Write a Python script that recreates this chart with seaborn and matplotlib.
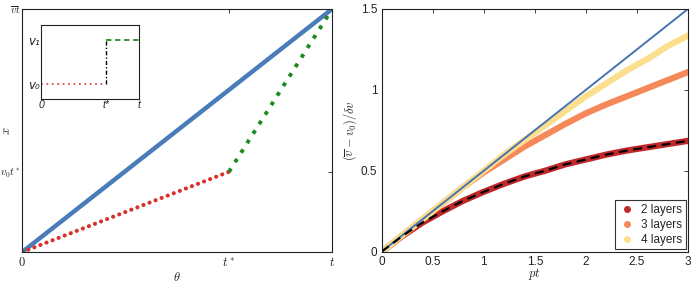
import matplotlib.pyplot as plt
import seaborn as sns
import pandas as pd
from matplotlib.lines import Line2D

# ---- left panel: piecewise path (normalised units, t = 1) ----
t_star = 0.667
v0_tstar = 0.33
blue_x = [0, 1]
blue_y = [0, 1]
red_x = [0, t_star]
red_y = [0, v0_tstar]
green_x = [t_star, 1]
green_y = [v0_tstar, 1]

# inset: velocity step
inset_v0 = 0.2
inset_v1 = 0.8

# ---- right panel: measured curves ----
pt = [0, 0.2, 0.4, 0.6, 0.8, 1.0, 1.2, 1.4, 1.6, 1.8, 2.0, 2.2, 2.4, 2.6, 2.8, 3.0]
layers2 = [0, 0.095, 0.18, 0.25, 0.315, 0.37, 0.42, 0.465, 0.50, 0.54, 0.57, 0.60, 0.625, 0.645, 0.665, 0.685]
layers3 = [0, 0.10, 0.20, 0.30, 0.40, 0.49, 0.57, 0.65, 0.72, 0.79, 0.855, 0.91, 0.96, 1.01, 1.06, 1.11]
layers4 = [0, 0.10, 0.20, 0.30, 0.40, 0.50, 0.60, 0.69, 0.78, 0.87, 0.96, 1.04, 1.12, 1.19, 1.27, 1.335]
theory2 = [0, 0.095, 0.18, 0.25, 0.315, 0.37, 0.42, 0.465, 0.50, 0.54, 0.57, 0.60, 0.625, 0.645, 0.665, 0.685]
limit_x = [0, 3]
limit_y = [0, 1.5]
layer_names = ["2 layers", "3 layers", "4 layers"]
layer_colors = {"2 layers": "#c0282a", "3 layers": "#f5895a", "4 layers": "#fcdf8c"}

sns.set_theme(style="white")
plt.rcParams['font.family'] = ['Liberation Sans', 'DejaVu Sans']
plt.rcParams['mathtext.fontset'] = 'cm'
plt.rcParams['xtick.direction'] = 'in'
plt.rcParams['ytick.direction'] = 'in'

fig = plt.figure(figsize=(6.95, 2.88), dpi=100)
ax1 = fig.add_axes([0.032, 0.125, 0.446, 0.844])
ax2 = fig.add_axes([0.549, 0.126, 0.441, 0.843])
ins = fig.add_axes([0.059, 0.657, 0.141, 0.257])


def line(ax, x, y, **kw):
    # plain line through the given points, no aggregation
    sns.lineplot(x=x, y=y, ax=ax, estimator=None, sort=False, errorbar=None, **kw)


# left panel
line(ax1, blue_x, blue_y, color="#4a7cb9", lw=3.2)
line(ax1, red_x, red_y, color="#d7312d", lw=3.0,
     linestyle=(0, (0.01, 1.55)), dash_capstyle='round')
line(ax1, green_x, green_y, color="#1d8a1d", lw=2.8,
     linestyle=(0, (1.0, 1.9)))
ax1.set_xlim(0, 1)
ax1.set_ylim(0, 1)
ax1.set_xticks([0, t_star, 1])
ax1.set_xticklabels(["$0$", "$t^*$", "$t$"], fontsize=9)
ax1.set_yticks([v0_tstar, 1])
ax1.set_yticklabels(["$v_0t^*$", r"$\overline{v}t$"], fontsize=7.5)
ax1.tick_params(axis='x', top=True, length=3, width=0.6, pad=3, colors="#222222")
ax1.tick_params(axis='y', right=True, length=3, width=0.6, pad=1, colors="#222222")
ax1.set_xlabel(r"$\theta$", fontsize=9, labelpad=1)
ax1.set_ylabel("$x$", fontsize=9)
ax1.yaxis.set_label_coords(-0.03, 0.5)
for s in ax1.spines.values():
    s.set_color("#222222")
    s.set_linewidth(0.8)

# inset
line(ins, [0, t_star], [inset_v0, inset_v0], color="#e05050", lw=1.3,
     linestyle=(0, (1, 2)))
line(ins, [t_star, t_star], [inset_v0, inset_v1], color="black", lw=1.0,
     linestyle=(0, (3, 1.5, 1, 1.5)))
line(ins, [t_star, 1], [inset_v1, inset_v1], color="#2a8a2a", lw=1.3,
     linestyle=(0, (3, 2)))
ins.set_xlim(0, 1)
ins.set_ylim(0, 1)
ins.set_xticks([0, t_star, 1])
ins.set_xticklabels(["0", "t*", "t"], fontsize=7.5, style='italic')
ins.set_yticks([inset_v0, inset_v1])
ins.set_yticklabels(["v₀", "v₁"], fontsize=8.5, style='italic', family='DejaVu Sans')
ins.tick_params(length=2, width=0.6, pad=1, colors="#222222")
for s in ins.spines.values():
    s.set_color("#222222")
    s.set_linewidth(0.8)

# right panel
df = pd.DataFrame({
    'pt': pt * 3,
    'val': layers4 + layers3 + layers2,
    'layers': ["4 layers"] * len(pt) + ["3 layers"] * len(pt) + ["2 layers"] * len(pt),
})
for name in layer_names:
    sub = df[df.layers == name]
    line(ax2, sub['pt'], sub['val'], color=layer_colors[name], lw=4.5)
line(ax2, limit_x, limit_y, color="#4873b0", lw=1.4)
line(ax2, pt, theory2, color="black", lw=1.6, linestyle=(0, (4, 2.5)))
ax2.set_xlim(0, 3)
ax2.set_ylim(0, 1.5)
ax2.set_xticks([0, 0.5, 1, 1.5, 2, 2.5, 3])
ax2.set_xticklabels(["0", "0.5", "1", "1.5", "2", "2.5", "3"], fontsize=8.5)
ax2.set_yticks([0, 0.5, 1, 1.5])
ax2.set_yticklabels(["0", "0.5", "1", "1.5"], fontsize=8.5)
ax2.tick_params(top=True, right=True, length=3, width=0.6, pad=3, colors="#222222")
ax2.set_xlabel("$pt$", fontsize=9, labelpad=-1)
ax2.set_ylabel(r"$(\overline{v}-v_0)/\delta v$", fontsize=9)
ax2.yaxis.set_label_coords(-0.075, 0.5)
for s in ax2.spines.values():
    s.set_color("#222222")
    s.set_linewidth(0.8)

handles = [Line2D([], [], marker='o', ls='none', color=layer_colors[n], markersize=4) for n in layer_names]
leg = ax2.legend(handles, layer_names, loc='lower right', fontsize=8.5, frameon=True,
                 fancybox=False, edgecolor='black', handletextpad=0.4, borderpad=0.3,
                 labelspacing=0.25, handlelength=1.5, borderaxespad=0.2)
leg.get_frame().set_linewidth(0.8)

fig.savefig("out.png", dpi=100)
